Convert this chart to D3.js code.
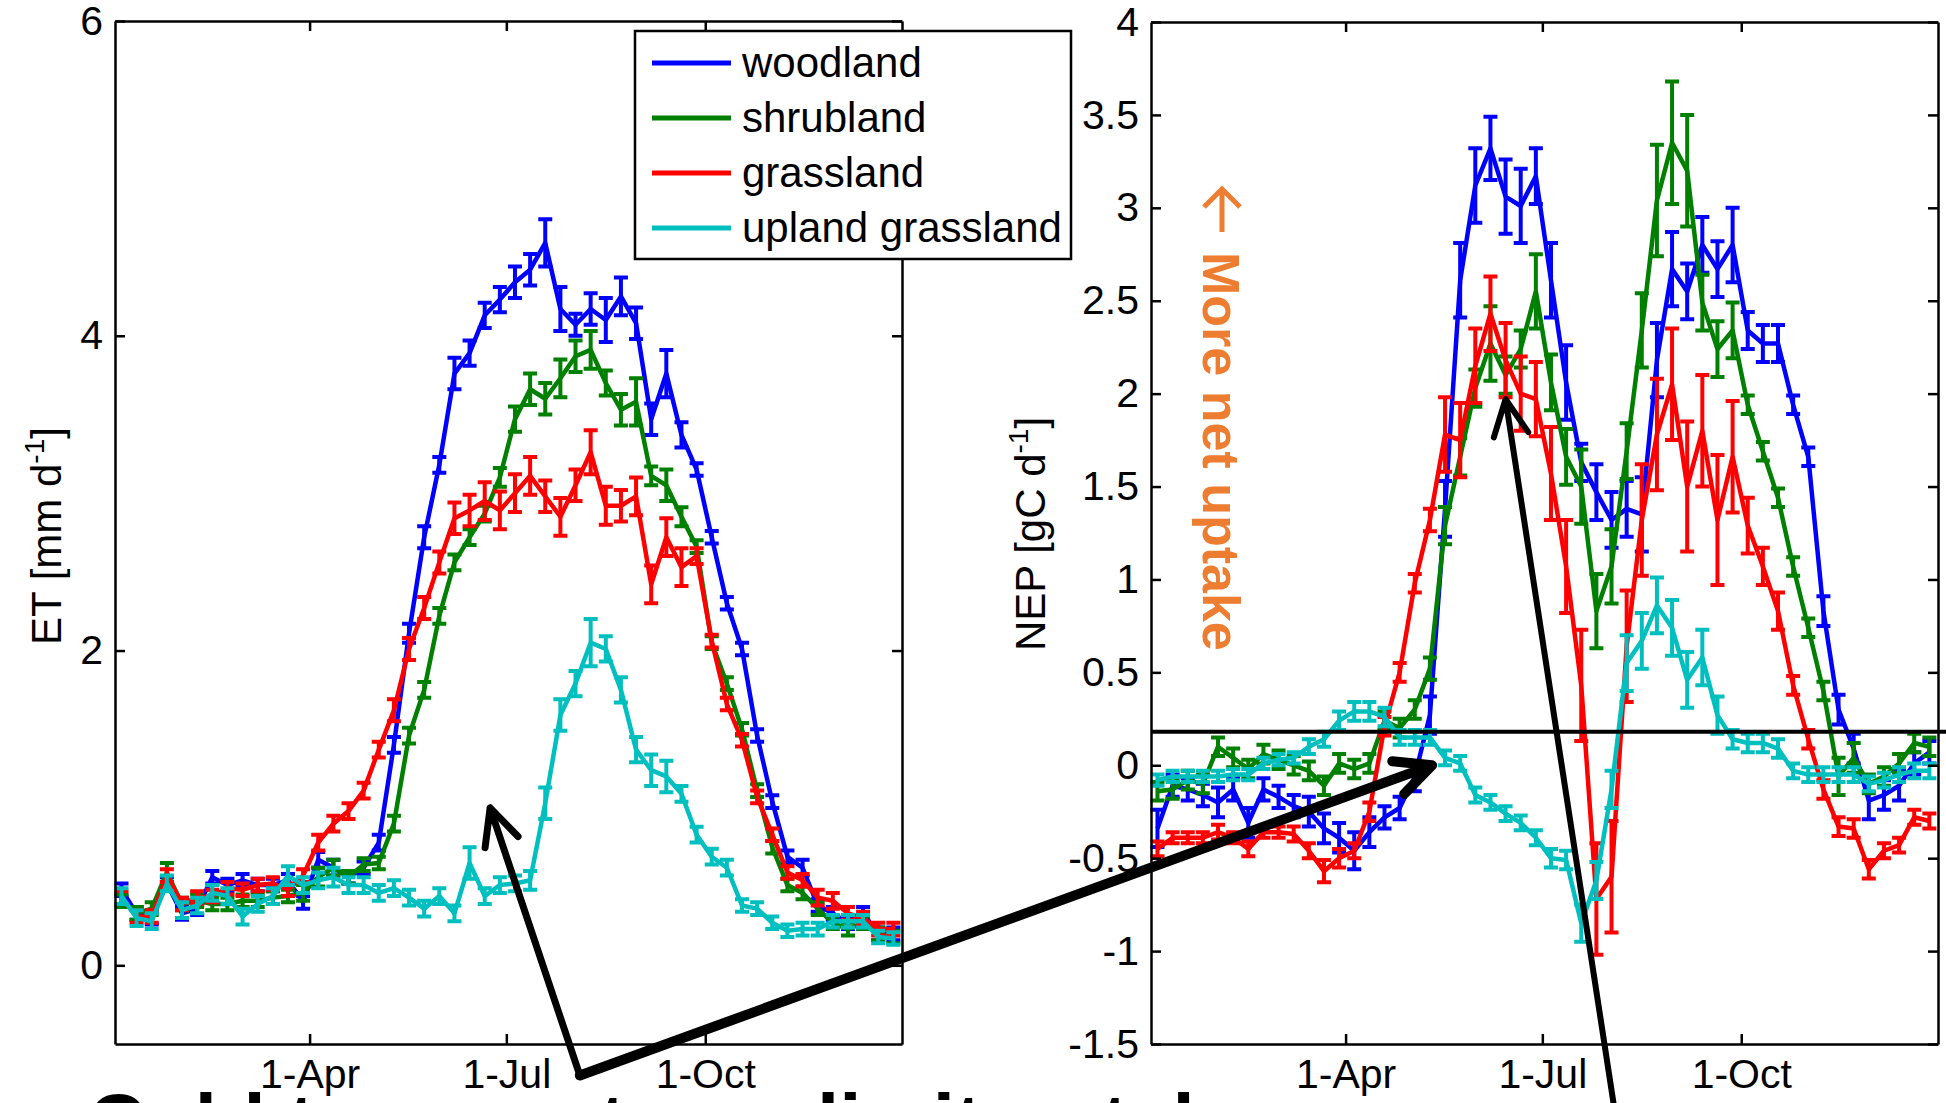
<!DOCTYPE html>
<html>
<head>
<meta charset="utf-8">
<script src="https://cdn.jsdelivr.net/npm/d3@7"></script>
<style>
  body { margin: 0; background: #fff; }
  svg { display: block; }
  .axis path, .axis line { stroke: #000; stroke-width: 2.5; }
  .axis text { font-family: Arial, "Liberation Sans", sans-serif; font-size: 41px; fill: #000; }
  .lab { font-family: Arial, "Liberation Sans", sans-serif; fill: #000; }
</style>
</head>
<body>
<svg id="chart"></svg>
<script>
// weekly samples, day of year
const days = [4, 11, 18, 25, 32, 39, 46, 53, 60, 67, 74, 81, 88, 95, 102, 109, 116, 123, 130, 137,
  144, 151, 158, 165, 172, 179, 186, 193, 200, 207, 214, 221, 228, 235, 242, 249, 256, 263, 270, 277,
  284, 291, 298, 305, 312, 319, 326, 333, 340, 347, 354, 361];

const names = ['woodland', 'shrubland', 'grassland', 'upland grassland'];
const colors = ['#0000ff', '#008000', '#ff0000', '#00bfbf'];

const tickDays = [91, 182, 274];
const tickLabels = ['1-Apr', '1-Jul', '1-Oct'];
const etTicks = [0, 2, 4, 6];
const nepTicks = [-1.5, -1, -0.5, 0, 0.5, 1, 1.5, 2, 2.5, 3, 3.5, 4];

// ET [mm d-1]
const etWood = [0.48, 0.33, 0.30, 0.52, 0.33, 0.36, 0.56, 0.51, 0.54, 0.51, 0.51, 0.54, 0.40, 0.67, 0.62, 0.56, 0.62, 0.78, 1.40, 2.11,
  2.72, 3.18, 3.76, 3.89, 4.13, 4.23, 4.34, 4.42, 4.59, 4.17, 4.07, 4.17, 4.10, 4.25, 4.08, 3.47, 3.76, 3.37, 3.15, 2.72,
  2.30, 2.01, 1.46, 1.04, 0.69, 0.62, 0.38, 0.33, 0.27, 0.33, 0.20, 0.20];
const etShrub = [0.41, 0.33, 0.36, 0.59, 0.39, 0.41, 0.39, 0.39, 0.41, 0.41, 0.43, 0.44, 0.46, 0.56, 0.62, 0.56, 0.64, 0.65, 0.90, 1.46,
  1.75, 2.22, 2.56, 2.72, 2.87, 3.10, 3.47, 3.66, 3.60, 3.73, 3.87, 3.91, 3.70, 3.53, 3.58, 3.11, 3.05, 2.85, 2.66, 2.05,
  1.79, 1.50, 1.11, 0.75, 0.51, 0.46, 0.36, 0.27, 0.23, 0.27, 0.20, 0.18];
const etGrass = [0.43, 0.31, 0.31, 0.57, 0.39, 0.43, 0.44, 0.49, 0.48, 0.51, 0.52, 0.48, 0.57, 0.78, 0.90, 0.98, 1.11, 1.37, 1.62, 2.01,
  2.27, 2.56, 2.84, 2.89, 2.95, 2.89, 3.00, 3.11, 2.98, 2.85, 3.05, 3.26, 2.92, 2.92, 2.98, 2.42, 2.72, 2.53, 2.60, 2.06,
  1.66, 1.43, 1.07, 0.83, 0.59, 0.54, 0.43, 0.41, 0.33, 0.30, 0.23, 0.23];
const etUpland = [0.44, 0.30, 0.28, 0.52, 0.35, 0.38, 0.46, 0.44, 0.31, 0.39, 0.44, 0.57, 0.51, 0.54, 0.56, 0.51, 0.51, 0.46, 0.49, 0.43,
  0.36, 0.44, 0.33, 0.65, 0.44, 0.51, 0.52, 0.54, 1.03, 1.59, 1.79, 2.05, 2.01, 1.75, 1.37, 1.24, 1.20, 1.09, 0.83, 0.69,
  0.62, 0.38, 0.36, 0.27, 0.22, 0.23, 0.23, 0.28, 0.28, 0.28, 0.18, 0.17];

const etWoodErr = [0.04, 0.04, 0.04, 0.04, 0.04, 0.04, 0.04, 0.04, 0.04, 0.04, 0.04, 0.04, 0.04, 0.05, 0.05, 0.04, 0.04, 0.05, 0.05, 0.06,
  0.07, 0.05, 0.10, 0.08, 0.08, 0.08, 0.10, 0.10, 0.15, 0.14, 0.07, 0.10, 0.14, 0.12, 0.10, 0.10, 0.15, 0.08, 0.04, 0.04,
  0.04, 0.04, 0.04, 0.04, 0.04, 0.05, 0.04, 0.04, 0.04, 0.04, 0.04, 0.04];
const etShrubErr = [0.04, 0.04, 0.04, 0.06, 0.04, 0.04, 0.04, 0.04, 0.04, 0.04, 0.04, 0.04, 0.05, 0.06, 0.05, 0.04, 0.04, 0.04, 0.05, 0.05,
  0.05, 0.05, 0.05, 0.05, 0.05, 0.06, 0.08, 0.10, 0.10, 0.12, 0.10, 0.12, 0.08, 0.10, 0.15, 0.06, 0.10, 0.06, 0.04, 0.04,
  0.04, 0.04, 0.04, 0.04, 0.04, 0.04, 0.04, 0.04, 0.04, 0.04, 0.04, 0.04];
const etGrassErr = [0.04, 0.04, 0.04, 0.04, 0.04, 0.04, 0.04, 0.04, 0.04, 0.04, 0.04, 0.04, 0.04, 0.05, 0.05, 0.05, 0.05, 0.05, 0.07, 0.07,
  0.07, 0.07, 0.10, 0.10, 0.12, 0.12, 0.12, 0.12, 0.10, 0.12, 0.10, 0.14, 0.12, 0.10, 0.12, 0.12, 0.12, 0.12, 0.05, 0.04,
  0.04, 0.04, 0.04, 0.04, 0.04, 0.04, 0.05, 0.05, 0.04, 0.04, 0.04, 0.04];
const etUplandErr = [0.05, 0.05, 0.05, 0.05, 0.05, 0.05, 0.05, 0.05, 0.05, 0.05, 0.05, 0.06, 0.05, 0.05, 0.06, 0.05, 0.05, 0.05, 0.05, 0.05,
  0.05, 0.05, 0.05, 0.10, 0.05, 0.05, 0.05, 0.06, 0.10, 0.10, 0.08, 0.15, 0.08, 0.08, 0.08, 0.10, 0.10, 0.05, 0.05, 0.05,
  0.05, 0.04, 0.04, 0.04, 0.04, 0.04, 0.04, 0.04, 0.04, 0.04, 0.04, 0.04];

// NEP [gC d-1]
const nepWood = [-0.34, -0.11, -0.13, -0.16, -0.20, -0.13, -0.31, -0.13, -0.17, -0.22, -0.25, -0.34, -0.39, -0.46, -0.36, -0.28, -0.23, -0.06, 0.27, 1.38,
  2.61, 3.12, 3.32, 3.06, 3.01, 3.17, 2.61, 2.06, 1.63, 1.47, 1.32, 1.38, 1.35, 2.18, 2.67, 2.55, 2.80, 2.67, 2.80, 2.34,
  2.27, 2.27, 1.94, 1.66, 0.83, 0.30, 0.09, -0.19, -0.16, -0.11, 0.01, 0.07];
const nepShrub = [-0.14, -0.13, -0.08, -0.10, 0.10, 0.04, -0.02, 0.06, 0.03, 0.00, -0.03, -0.11, 0.01, -0.02, 0.01, 0.24, 0.20, 0.30, 0.52, 1.29,
  1.66, 2.03, 2.27, 2.10, 2.24, 2.55, 2.06, 1.66, 1.50, 0.83, 1.07, 1.69, 2.34, 3.04, 3.35, 3.20, 2.49, 2.24, 2.34, 1.94,
  1.69, 1.44, 1.07, 0.74, 0.40, -0.06, 0.04, -0.10, -0.06, 0.01, 0.12, 0.10];
const nepGrass = [-0.45, -0.39, -0.39, -0.39, -0.36, -0.39, -0.45, -0.36, -0.36, -0.37, -0.46, -0.57, -0.50, -0.46, -0.25, 0.21, 0.50, 0.98, 1.32, 1.78,
  1.75, 2.15, 2.43, 2.18, 2.00, 1.97, 1.57, 1.07, 0.43, -0.72, -0.60, 0.64, 1.32, 1.78, 2.05, 1.50, 1.80, 1.32, 1.66, 1.29,
  1.07, 0.83, 0.43, 0.14, -0.13, -0.33, -0.34, -0.56, -0.46, -0.43, -0.28, -0.30];
const nepUpland = [-0.08, -0.06, -0.06, -0.06, -0.06, -0.05, -0.05, 0.01, 0.03, 0.04, 0.10, 0.14, 0.24, 0.29, 0.29, 0.26, 0.15, 0.15, 0.15, 0.04,
  0.01, -0.16, -0.20, -0.26, -0.31, -0.39, -0.50, -0.51, -0.85, -0.62, -0.13, 0.55, 0.67, 0.86, 0.74, 0.46, 0.58, 0.27, 0.14, 0.12,
  0.12, 0.09, -0.03, -0.05, -0.05, -0.05, -0.05, -0.10, -0.08, -0.05, -0.03, -0.03];

const nepWoodErr = [0.10, 0.06, 0.06, 0.06, 0.08, 0.06, 0.08, 0.06, 0.06, 0.06, 0.08, 0.08, 0.08, 0.10, 0.08, 0.06, 0.06, 0.08, 0.10, 0.15,
  0.20, 0.20, 0.17, 0.20, 0.20, 0.15, 0.20, 0.20, 0.10, 0.15, 0.15, 0.15, 0.20, 0.20, 0.20, 0.15, 0.15, 0.15, 0.20, 0.10,
  0.10, 0.10, 0.05, 0.05, 0.08, 0.08, 0.08, 0.10, 0.08, 0.08, 0.06, 0.06];
const nepShrubErr = [0.05, 0.05, 0.05, 0.05, 0.05, 0.05, 0.05, 0.05, 0.05, 0.05, 0.05, 0.05, 0.05, 0.05, 0.05, 0.05, 0.05, 0.05, 0.06, 0.10,
  0.10, 0.10, 0.20, 0.10, 0.10, 0.20, 0.15, 0.15, 0.20, 0.20, 0.20, 0.15, 0.20, 0.30, 0.33, 0.30, 0.15, 0.15, 0.15, 0.05,
  0.05, 0.05, 0.05, 0.05, 0.05, 0.10, 0.08, 0.05, 0.05, 0.05, 0.05, 0.05];
const nepGrassErr = [0.04, 0.03, 0.03, 0.03, 0.04, 0.03, 0.04, 0.03, 0.03, 0.04, 0.04, 0.06, 0.05, 0.04, 0.05, 0.05, 0.05, 0.05, 0.06, 0.20,
  0.20, 0.20, 0.20, 0.20, 0.20, 0.20, 0.25, 0.25, 0.30, 0.30, 0.30, 0.30, 0.30, 0.30, 0.30, 0.35, 0.30, 0.35, 0.30, 0.15,
  0.10, 0.10, 0.05, 0.05, 0.05, 0.05, 0.05, 0.05, 0.04, 0.04, 0.04, 0.04];
const nepUplandErr = [0.03, 0.03, 0.03, 0.03, 0.03, 0.03, 0.03, 0.03, 0.03, 0.03, 0.04, 0.04, 0.05, 0.05, 0.05, 0.05, 0.04, 0.04, 0.04, 0.04,
  0.04, 0.04, 0.04, 0.04, 0.04, 0.04, 0.05, 0.05, 0.10, 0.10, 0.10, 0.15, 0.15, 0.15, 0.15, 0.15, 0.15, 0.10, 0.05, 0.05,
  0.05, 0.05, 0.04, 0.04, 0.04, 0.04, 0.04, 0.04, 0.04, 0.04, 0.04, 0.04];

const width = 1946;
const height = 1103;

const svg = d3.select('#chart')
  .attr('width', width)
  .attr('height', height);

const fmt = d => String(d);

function panel(box, yDomain, yTicks, series, errs) {
  const x = d3.scaleLinear().domain([1, 365]).range([box.left, box.right]);
  const y = d3.scaleLinear().domain(yDomain).range([box.bottom, box.top]);

  const g = svg.append('g');

  series.forEach((vals, s) => {
    const pts = vals.map((v, i) => ({ day: days[i], v: v, e: errs[s][i] }));

    g.append('path')
      .datum(pts)
      .attr('fill', 'none')
      .attr('stroke', colors[s])
      .attr('stroke-width', 4.5)
      .attr('stroke-linejoin', 'round')
      .attr('d', d3.line().x(d => x(d.day)).y(d => y(d.v)));

    g.append('g').selectAll('path')
      .data(pts)
      .enter().append('path')
      .attr('fill', 'none')
      .attr('stroke', colors[s])
      .attr('stroke-width', 4)
      .attr('d', d => {
        const cx = x(d.day), lo = y(d.v - d.e), hi = y(d.v + d.e);
        return 'M' + cx + ',' + lo + 'V' + hi
          + 'M' + (cx - 7) + ',' + lo + 'h14'
          + 'M' + (cx - 7) + ',' + hi + 'h14';
      });
  });

  // boxed axes, ticks pointing inward
  g.append('g').attr('class', 'axis')
    .attr('transform', 'translate(0,' + box.bottom + ')')
    .call(d3.axisBottom(x).tickValues(tickDays).tickFormat((d, i) => tickLabels[i])
      .tickSizeInner(-10).tickSizeOuter(0).tickPadding(15));
  g.append('g').attr('class', 'axis')
    .attr('transform', 'translate(0,' + box.top + ')')
    .call(d3.axisTop(x).tickValues(tickDays).tickFormat('').tickSizeInner(-10).tickSizeOuter(0));
  g.append('g').attr('class', 'axis')
    .attr('transform', 'translate(' + box.left + ',0)')
    .call(d3.axisLeft(y).tickValues(yTicks).tickFormat(fmt).tickSizeInner(-10).tickSizeOuter(0).tickPadding(12));
  g.append('g').attr('class', 'axis')
    .attr('transform', 'translate(' + box.right + ',0)')
    .call(d3.axisRight(y).tickValues(yTicks).tickFormat('').tickSizeInner(-10).tickSizeOuter(0));

  return { x, y };
}

const et = panel({ left: 115, right: 902, top: 21, bottom: 1044 }, [-0.5, 6], etTicks,
  [etWood, etShrub, etGrass, etUpland], [etWoodErr, etShrubErr, etGrassErr, etUplandErr]);

const nep = panel({ left: 1151, right: 1938, top: 22, bottom: 1044 }, [-1.5, 4], nepTicks,
  [nepWood, nepShrub, nepGrass, nepUpland], [nepWoodErr, nepShrubErr, nepGrassErr, nepUplandErr]);

// y labels
function yLabel(px, py, main) {
  const t = svg.append('text')
    .attr('class', 'lab')
    .attr('transform', 'translate(' + px + ',' + py + ') rotate(-90)')
    .attr('text-anchor', 'middle')
    .style('font-size', '42px');
  t.append('tspan').text(main);
  t.append('tspan').attr('dy', -17).style('font-size', '28px').text('-1');
  t.append('tspan').attr('dy', 17).text(']');
}
yLabel(61, 536, 'ET [mm d');
yLabel(1045, 534, 'NEP [gC d');

// zero-uptake reference line in the NEP panel
svg.append('line')
  .attr('x1', nep.x.range()[0]).attr('x2', width)
  .attr('y1', nep.y(0.18)).attr('y2', nep.y(0.18))
  .attr('stroke', '#000').attr('stroke-width', 4);

// orange annotation: arrow pointing up, then rotated text
const orange = '#ed7d31';
svg.append('path')
  .attr('d', 'M1222,232V189M1204,207L1222,189L1240,207')
  .attr('fill', 'none')
  .attr('stroke', orange)
  .attr('stroke-width', 5);
svg.append('text')
  .attr('transform', 'translate(1203,252) rotate(90)')
  .attr('fill', orange)
  .style('font-family', 'Arial, "Liberation Sans", sans-serif')
  .style('font-size', '52px')
  .style('font-weight', 'bold')
  .text('More net uptake');

// legend
const leg = svg.append('g');
leg.append('rect')
  .attr('x', 635).attr('y', 31).attr('width', 436).attr('height', 228)
  .attr('fill', '#fff').attr('stroke', '#000').attr('stroke-width', 2.5);
names.forEach((n, i) => {
  const ly = 63 + i * 55;
  leg.append('line')
    .attr('x1', 652).attr('x2', 731).attr('y1', ly).attr('y2', ly)
    .attr('stroke', colors[i]).attr('stroke-width', 5);
  leg.append('text')
    .attr('class', 'lab')
    .attr('x', 742).attr('y', ly + 14)
    .style('font-size', '42px')
    .text(n);
});

// black annotation arrows, placed in data coordinates
function arrow(x1, y1, x2, y2, w) {
  const a = Math.atan2(y1 - y2, x1 - x2);
  const len = 40, spread = 0.45;
  const path = 'M' + x1 + ',' + y1 + 'L' + x2 + ',' + y2
    + 'M' + (x2 + len * Math.cos(a - spread)) + ',' + (y2 + len * Math.sin(a - spread))
    + 'L' + x2 + ',' + y2
    + 'L' + (x2 + len * Math.cos(a + spread)) + ',' + (y2 + len * Math.sin(a + spread));
  svg.append('path')
    .attr('d', path)
    .attr('fill', 'none')
    .attr('stroke', '#000')
    .attr('stroke-width', w)
    .attr('stroke-linecap', 'round')
    .attr('stroke-linejoin', 'round');
}
const tailX = et.x(216), tailY = et.y(-0.70);
arrow(tailX, tailY, et.x(174.5), et.y(1.0), 7);
arrow(tailX, tailY, nep.x(131), nep.y(0.0), 10);
arrow(nep.x(216), nep.y(-1.9), nep.x(165), nep.y(1.97), 6);

// caption running off the bottom edge (only the tops of tall letters show)
svg.append('text')
  .attr('x', 88).attr('y', 1150)
  .style('font-family', 'Arial, "Liberation Sans", sans-serif')
  .style('font-size', '80px')
  .style('font-weight', 'bold')
  .text('Cold temperatures limit uptake');
</script>
</body>
</html>
